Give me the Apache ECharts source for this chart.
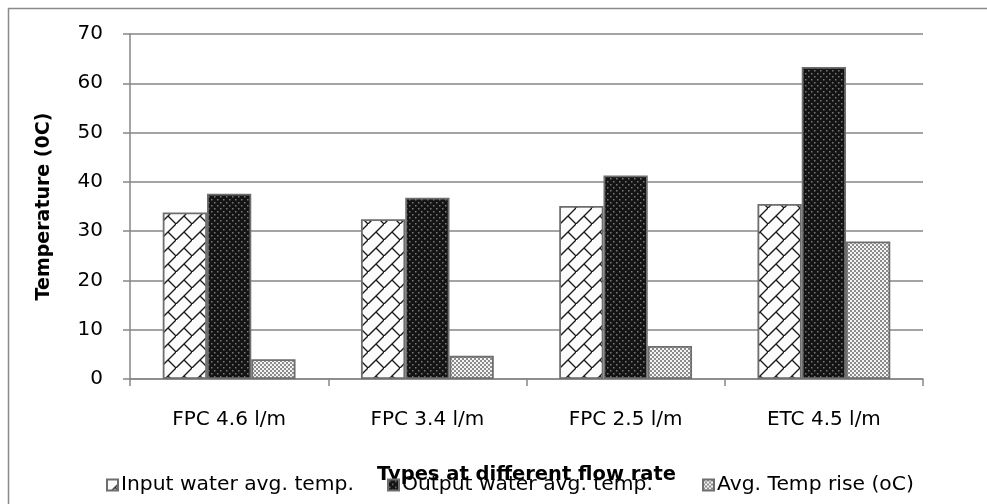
<!DOCTYPE html>
<html>
<head>
<meta charset="utf-8">
<script src="https://cdn.jsdelivr.net/npm/echarts@6/dist/echarts.min.js"></script>
<style>
  html, body { margin: 0; padding: 0; background: #fff; }
  #chart { width: 987px; height: 504px; }
</style>
</head>
<body>
<div id="chart"></div>
<script>
// Average water temperatures per collector type and flow rate
const categories = ['FPC 4.6 l/m', 'FPC 3.4 l/m', 'FPC 2.5 l/m', 'ETC 4.5 l/m'];
const inputTemp = [33.8, 32.4, 35.1, 35.5];
const outputTemp = [37.6, 36.8, 41.3, 63.3];
const tempRise = [4.0, 4.7, 6.7, 27.9];
const seriesNames = ['Input water avg. temp.', 'Output water avg. temp.', 'Avg. Temp rise (oC)'];
const yTicks = { min: 0, max: 70, interval: 10 };

const FONT = '"DejaVu Sans", sans-serif';

// Fill patterns for the three series
function makeTile(size, draw) {
  const c = document.createElement('canvas');
  c.width = size; c.height = size;
  draw(c.getContext('2d'), size);
  return { image: c, repeat: 'repeat' };
}

const brickFill = makeTile(16, (g, s) => {
  g.fillStyle = '#fbfbfb';
  g.fillRect(0, 0, s, s);
  g.strokeStyle = '#1a1a1a';
  g.lineWidth = 1.4;
  g.beginPath();
  g.moveTo(-2, s + 2); g.lineTo(s + 2, -2);
  g.moveTo(s / 2, s / 2); g.lineTo(s + 1, s + 1);
  g.stroke();
});

const darkDotFill = makeTile(6, (g, s) => {
  g.fillStyle = '#141414';
  g.fillRect(0, 0, s, s);
  g.fillStyle = '#7a7a7a';
  g.fillRect(1, 1, 1.5, 1.5);
  g.fillRect(4, 4, 1.5, 1.5);
});

const lightDotFill = makeTile(4, (g, s) => {
  g.fillStyle = '#f4f4f4';
  g.fillRect(0, 0, s, s);
  g.fillStyle = '#8c8c8c';
  g.fillRect(0, 0, 2, 2);
  g.fillRect(2, 2, 2, 2);
});

const fills = [brickFill, darkDotFill, lightDotFill];
const values = [inputTemp, outputTemp, tempRise];

const chart = echarts.init(document.getElementById('chart'), null, { renderer: 'canvas' });

const legendLefts = [101, 382, 697];

chart.setOption({
  animation: false,
  backgroundColor: '#ffffff',
  textStyle: { fontFamily: FONT },
  graphic: [{
    type: 'rect',
    shape: { x: 8.5, y: 8.5, width: 1100, height: 600 },
    style: { fill: 'none', stroke: '#8a8a8a', lineWidth: 1.5 },
    silent: true
  }],
  grid: { left: 130, right: 64, top: 34, bottom: 125 },
  legend: seriesNames.map((name, i) => ({
    data: [name],
    left: legendLefts[i],
    top: 470,
    icon: 'rect',
    itemWidth: 11,
    itemHeight: 11,
    itemGap: 4,
    textStyle: { fontFamily: FONT, fontSize: 20.3, color: '#000', padding: [0, 0, 0, -2] }
  })),
  xAxis: {
    type: 'category',
    data: categories,
    name: 'Types at different flow rate',
    nameLocation: 'middle',
    nameGap: 86,
    nameTextStyle: { fontFamily: FONT, fontSize: 19.5, fontWeight: 'bold', color: '#000' },
    axisLine: { lineStyle: { color: '#868686', width: 1.5 } },
    axisTick: { show: true, length: 7, lineStyle: { color: '#868686', width: 1.5 } },
    axisLabel: { margin: 31, fontFamily: FONT, fontSize: 20, color: '#000' },
    splitLine: { show: false }
  },
  yAxis: {
    type: 'value',
    min: yTicks.min,
    max: yTicks.max,
    interval: yTicks.interval,
    name: 'Temperature (0C)',
    nameLocation: 'middle',
    nameGap: 76,
    nameTextStyle: { fontFamily: FONT, fontSize: 19, fontWeight: 'bold', color: '#000' },
    axisLine: { show: true, lineStyle: { color: '#868686', width: 1.5 } },
    axisTick: { show: true, length: 7, lineStyle: { color: '#868686', width: 1.5 } },
    axisLabel: { margin: 27, fontFamily: FONT, fontSize: 20, color: '#000' },
    splitLine: { lineStyle: { color: '#868686', width: 1.5 } }
  },
  series: seriesNames.map((name, i) => ({
    name,
    type: 'bar',
    data: values[i],
    barGap: '0%',
    barCategoryGap: '33%',
    itemStyle: { color: fills[i], borderColor: '#6e6e6e', borderWidth: 1.8 }
  }))
});
</script>
</body>
</html>
